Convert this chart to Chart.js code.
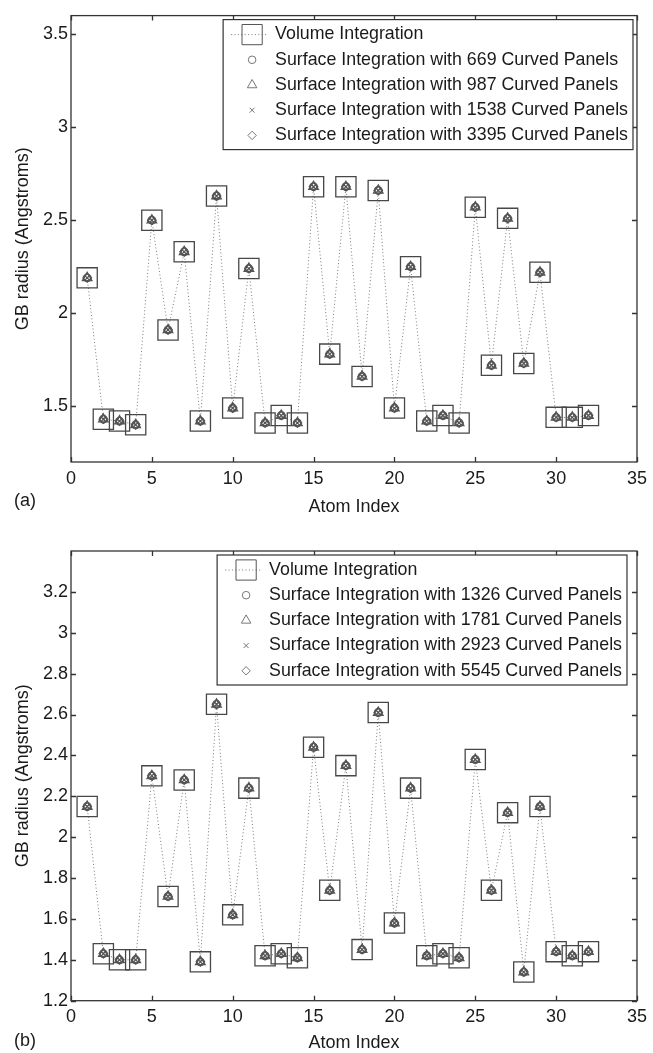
<!DOCTYPE html>
<html>
<head>
<meta charset="utf-8">
<script src="https://cdn.jsdelivr.net/npm/chart.js@4"></script>
<style>
  body { margin: 0; background: #fff; overflow: hidden; }
  .wrap { position: absolute; left: 0; width: 653px; height: 540px; }
  #wrapA { top: 0; }
  #wrapB { top: 513px; }
</style>
</head>
<body>
<div class="wrap" id="wrapA"><canvas id="chartA" width="653" height="540"></canvas></div>
<div class="wrap" id="wrapB"><canvas id="chartB" width="653" height="540"></canvas></div>
<script>
//Atom indices along the x axis
var atomIndex = [1, 2, 3, 4, 5, 6, 7, 8, 9, 10, 11, 12, 13, 14, 15, 16,
                 17, 18, 19, 20, 21, 22, 23, 24, 25, 26, 27, 28, 29, 30, 31, 32];

//GB radii, panel (a)
var volumeA = [2.19, 1.43, 1.42, 1.40, 2.50, 1.91, 2.33, 1.42, 2.63, 1.49, 2.24, 1.41, 1.45, 1.41, 2.68, 1.78,
               2.68, 1.66, 2.66, 1.49, 2.25, 1.42, 1.45, 1.41, 2.57, 1.72, 2.51, 1.73, 2.22, 1.44, 1.44, 1.45];

//GB radii, panel (b)
var volumeB = [2.15, 1.43, 1.40, 1.40, 2.30, 1.71, 2.28, 1.39, 2.65, 1.62, 2.24, 1.42, 1.43, 1.41, 2.44, 1.74,
               2.35, 1.45, 2.61, 1.58, 2.24, 1.42, 1.43, 1.41, 2.38, 1.74, 2.12, 1.34, 2.15, 1.44, 1.42, 1.44];

//The surface integration markers sit on top of the volume values at this resolution
var surfaceA = volumeA;
var surfaceB = volumeB;

var labelsA = ["Volume Integration",
               "Surface Integration with 669 Curved Panels",
               "Surface Integration with 987 Curved Panels",
               "Surface Integration with 1538 Curved Panels",
               "Surface Integration with 3395 Curved Panels"];
var labelsB = ["Volume Integration",
               "Surface Integration with 1326 Curved Panels",
               "Surface Integration with 1781 Curved Panels",
               "Surface Integration with 2923 Curved Panels",
               "Surface Integration with 5545 Curved Panels"];

var xTicks = [0, 5, 10, 15, 20, 25, 30, 35];
var yTicksA = [1.5, 2, 2.5, 3, 3.5];
var yTicksB = [1.2, 1.4, 1.6, 1.8, 2, 2.2, 2.4, 2.6, 2.8, 3, 3.2];

var fontFamily = '"Liberation Sans", Arial, Helvetica, sans-serif';
Chart.defaults.font.family = fontFamily;
Chart.defaults.font.size = 18;
Chart.defaults.color = '#1a1a1a';

function toPoints(values) {
    return values.map(function (v, i) { return { x: atomIndex[i], y: v }; });
}

//Draws a marker shape for the legend samples
function legendPoint(ctx, style, r, x, y) {
    if (Chart.helpers && Chart.helpers.drawPoint) {
        Chart.helpers.drawPoint(ctx, { pointStyle: style, radius: r, borderWidth: 1, rotation: 0 }, x, y);
    }
}

//Frame with inward ticks on all four sides, boxed legend and panel letter
var matlabLook = {
    id: 'matlabLook',
    afterDraw: function (chart, args, opts) {
        var ctx = chart.ctx;
        var area = chart.chartArea;
        var xs = chart.scales.x;
        var ys = chart.scales.y;
        ctx.save();

        ctx.strokeStyle = '#333';
        ctx.lineWidth = 1.3;
        ctx.strokeRect(area.left, area.top, area.right - area.left, area.bottom - area.top);
        ctx.beginPath();
        xs.ticks.forEach(function (t) {
            var px = Math.round(xs.getPixelForValue(t.value)) + 0.5;
            ctx.moveTo(px, area.bottom); ctx.lineTo(px, area.bottom - 5);
            ctx.moveTo(px, area.top); ctx.lineTo(px, area.top + 5);
        });
        ys.ticks.forEach(function (t) {
            var py = Math.round(ys.getPixelForValue(t.value)) + 0.5;
            ctx.moveTo(area.left, py); ctx.lineTo(area.left + 5, py);
            ctx.moveTo(area.right, py); ctx.lineTo(area.right - 5, py);
        });
        ctx.stroke();

        //Legend box
        ctx.font = '17.8px ' + fontFamily;
        var datasets = chart.data.datasets;
        var textW = 0;
        datasets.forEach(function (d) { textW = Math.max(textW, ctx.measureText(d.label).width); });
        var boxW = 57 + textW;
        var boxH = 130;
        var left = area.right - opts.rightGap - boxW;
        var top = area.top + opts.topGap;
        ctx.fillStyle = '#fff';
        ctx.fillRect(left, top, boxW, boxH);
        ctx.strokeStyle = '#333';
        ctx.lineWidth = 1.2;
        ctx.strokeRect(left, top, boxW, boxH);

        datasets.forEach(function (d, i) {
            var cy = top + 15 + i * 25.2;
            var cx = left + 29;
            if (d.showLine) {
                ctx.save();
                ctx.strokeStyle = d.borderColor;
                ctx.lineWidth = 1;
                ctx.setLineDash(d.borderDash);
                ctx.beginPath();
                ctx.moveTo(left + 8, cy);
                ctx.lineTo(left + 44, cy);
                ctx.stroke();
                ctx.restore();
            }
            ctx.strokeStyle = d.legendColor;
            ctx.fillStyle = 'rgba(0,0,0,0)';
            ctx.lineWidth = 1;
            legendPoint(ctx, d.pointStyle, d.legendRadius, cx, cy);
            ctx.fillStyle = '#1a1a1a';
            ctx.textAlign = 'left';
            ctx.textBaseline = 'middle';
            ctx.fillText(d.label, left + 52, cy);
        });

        //Panel letter
        ctx.font = '18px ' + fontFamily;
        ctx.fillStyle = '#1a1a1a';
        ctx.textAlign = 'center';
        ctx.textBaseline = 'middle';
        ctx.fillText(opts.panel, 25, area.bottom + opts.panelDrop);
        ctx.restore();
    }
};

function makeChart(canvasId, volume, surface, labels, yMin, yMax, yTicks, layoutTop, xAxisHeight, titlePad, panel) {
    var markerColor = '#555';
    var datasets = [
        {
            label: labels[0], data: toPoints(volume), showLine: true,
            borderColor: '#7a7a7a', borderWidth: 1, borderDash: [1, 2.4],
            pointStyle: 'rect', pointRadius: 14.3, pointBorderColor: '#474747', pointBorderWidth: 1.3,
            pointBackgroundColor: 'rgba(0,0,0,0)', legendRadius: 14.3, legendColor: '#555', order: 5
        }
    ];
    var styles = ['circle', 'triangle', 'crossRot', 'rectRot'];
    var radii = [3.8, 5.5, 3.5, 4.2];
    for (var i = 0; i < styles.length; i++) {
        datasets.push({
            label: labels[i + 1], data: toPoints(surface), showLine: false,
            pointStyle: styles[i], pointRadius: radii[i], pointBorderColor: markerColor,
            pointBorderWidth: 1.3, pointBackgroundColor: 'rgba(0,0,0,0)',
            legendRadius: radii[i], legendColor: '#777', order: 1 + i
        });
    }

    return new Chart(document.getElementById(canvasId).getContext('2d'), {
        type: 'scatter',
        data: { datasets: datasets },
        options: {
            responsive: false,
            animation: false,
            events: [],
            layout: { padding: { left: 0, right: 11, top: layoutTop, bottom: 0 } },
            scales: {
                x: {
                    type: 'linear', min: 0, max: 35,
                    grid: { display: false, drawTicks: false },
                    border: { display: false },
                    afterBuildTicks: function (s) { s.ticks = xTicks.map(function (v) { return { value: v }; }); },
                    afterFit: function (s) { s.height = xAxisHeight; },
                    ticks: { padding: 6, maxRotation: 0, autoSkip: false, color: '#1a1a1a' },
                    title: { display: true, text: 'Atom Index', color: '#1a1a1a',
                             font: { size: 18, lineHeight: 1 }, padding: { top: 0, bottom: titlePad } }
                },
                y: {
                    type: 'linear', min: yMin, max: yMax,
                    grid: { display: false, drawTicks: false },
                    border: { display: false },
                    afterBuildTicks: function (s) { s.ticks = yTicks.map(function (v) { return { value: v }; }); },
                    afterFit: function (s) { s.width = 71; },
                    ticks: { padding: 3, color: '#1a1a1a',
                             callback: function (v) { return String(Math.round(v * 10) / 10); } },
                    title: { display: true, text: 'GB radius (Angstroms)', color: '#1a1a1a',
                             font: { size: 18, lineHeight: 1 }, padding: { top: 14, bottom: 0 } }
                }
            },
            plugins: {
                legend: { display: false },
                tooltip: { enabled: false },
                matlabLook: panel
            }
        },
        plugins: [matlabLook]
    });
}

makeChart('chartA', volumeA, surfaceA, labelsA, 1.2, 3.6, yTicksA, 13, 78, 24,
          { panel: '(a)', panelDrop: 39, rightGap: 4, topGap: 4 });
makeChart('chartB', volumeB, surfaceB, labelsB, 1.2, 3.4, yTicksB, 38, 52.3, 1,
          { panel: '(b)', panelDrop: 40, rightGap: 10, topGap: 4 });
</script>
</body>
</html>
